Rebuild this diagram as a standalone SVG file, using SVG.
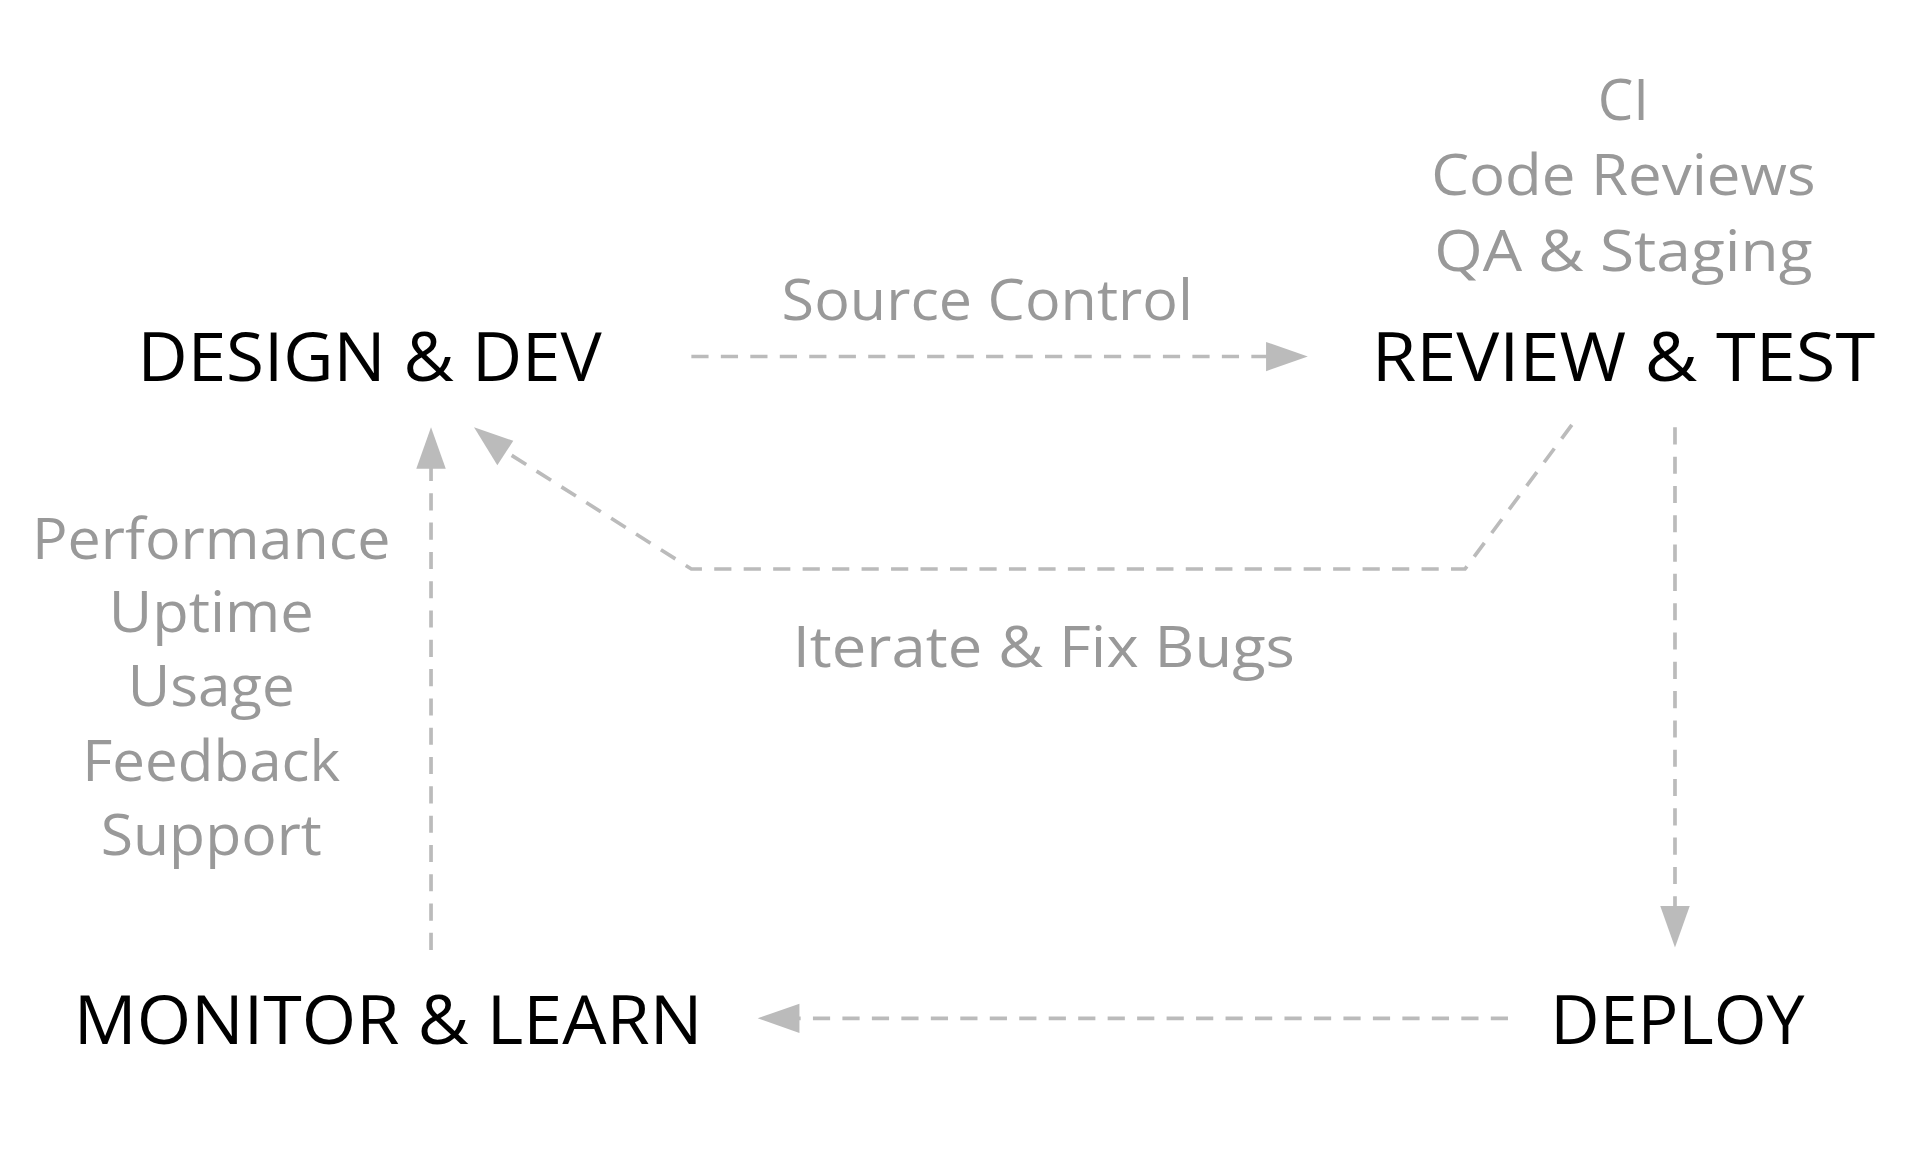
<svg xmlns="http://www.w3.org/2000/svg" width="1916" height="1166" viewBox="0 0 1916 1166">
<style>
.n{font-family:"Open Sans","Noto Sans",sans-serif;font-size:56px;fill:#000;text-anchor:middle}
.l{font-family:"Open Sans","Noto Sans",sans-serif;font-size:46px;fill:#999;text-anchor:middle}
.c{fill:none;stroke:#bbb;stroke-width:3;stroke-dasharray:14 10}
</style>
<defs><marker id="a" viewBox="0 0 10 10" refX="0" refY="5" markerWidth="10" markerHeight="8" markerUnits="userSpaceOnUse" orient="auto" style="overflow:visible"><path d="M0,0 L10,5 L0,10 z" fill="#bbb" transform="scale(3,2.4) translate(0,-2.9)"/></marker></defs>
<rect width="1916" height="1166" fill="#fff"/>
<g transform="scale(1.228,1.221)">
<g id="design"><text class="n" x="301" y="312" textLength="378" lengthAdjust="spacingAndGlyphs">DESIGN &amp; DEV</text></g>
<g id="review"><text class="n" x="1322" y="312" textLength="410" lengthAdjust="spacingAndGlyphs">REVIEW &amp; TEST</text>
<text class="l" x="1322" y="98">CI</text>
<text class="l" x="1322" y="160" textLength="313" lengthAdjust="spacingAndGlyphs">Code Reviews</text>
<text class="l" x="1322" y="222" textLength="308" lengthAdjust="spacingAndGlyphs">QA &amp; Staging</text></g>
<g id="deploy"><text class="n" x="1366" y="855" textLength="207" lengthAdjust="spacingAndGlyphs">DEPLOY</text></g>
<g id="monitor"><text class="n" x="316" y="855" textLength="512" lengthAdjust="spacingAndGlyphs">MONITOR &amp; LEARN</text>
<text class="l" x="172" y="458" textLength="292" lengthAdjust="spacingAndGlyphs">Performance</text>
<text class="l" x="172" y="518" textLength="167" lengthAdjust="spacingAndGlyphs">Uptime</text>
<text class="l" x="172" y="578" textLength="136" lengthAdjust="spacingAndGlyphs">Usage</text>
<text class="l" x="172" y="640" textLength="210" lengthAdjust="spacingAndGlyphs">Feedback</text>
<text class="l" x="172" y="700" textLength="180" lengthAdjust="spacingAndGlyphs">Support</text></g>
<g id="connectors">
<path class="c" d="M563,292 H1036"/>
<path d="M1031,280 L1065,292 L1031,304 z" fill="#bbb"/>
<path class="c" d="M1364,350 V745"/>
<path d="M1352,742 L1364,776 L1376,742 z" fill="#bbb"/>
<path class="c" d="M1228,834 H648"/>
<path d="M651,822 L617,834 L651,846 z" fill="#bbb"/>
<path class="c" d="M351,778 V383"/>
<path d="M339,384 L351,350 L363,384 z" fill="#bbb"/>
<path class="c" d="M1280,348 L1193,466 H563 L412,370"/>
<path d="M405,381 L386,350 L418,361 z" fill="#bbb"/>
<text class="l" x="804" y="262" textLength="335" lengthAdjust="spacingAndGlyphs">Source Control</text>
<text class="l" x="850" y="546" textLength="409" lengthAdjust="spacingAndGlyphs">Iterate &amp; Fix Bugs</text>
</g>
</g>
</svg>
